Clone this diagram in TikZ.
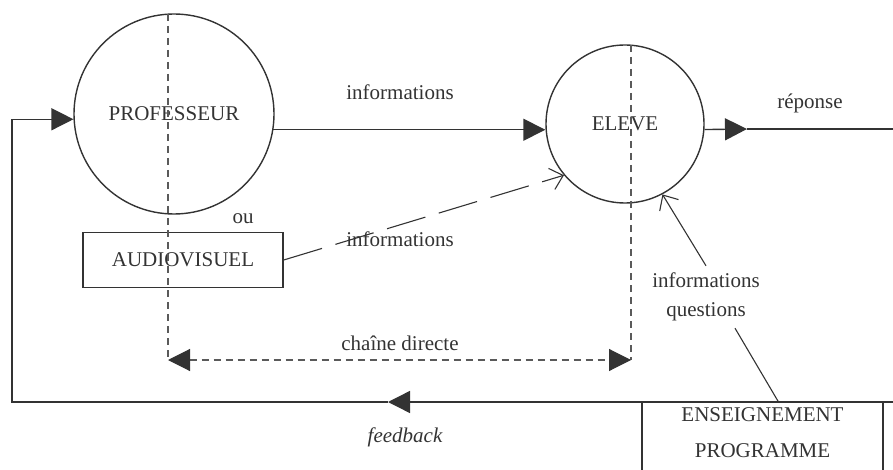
\documentclass[tikz,border=0pt]{standalone}
\usepackage{fontspec}
\setmainfont{Liberation Serif}
\usetikzlibrary{arrows.meta, positioning}

\definecolor{ink}{HTML}{333333}
\definecolor{guidegray}{HTML}{5A5A5A}

\tikzset{
  every node/.style={text=ink, font=\fontsize{10.5}{12.6}\selectfont},
  bubble/.style={circle, draw=ink, line width=0.7pt, inner sep=0pt},
  boxed/.style={rectangle, draw=ink, line width=0.7pt},
  flow/.style={draw=ink, line width=0.7pt, -{Triangle[length=11pt,width=11pt]}},
  plain/.style={draw=ink, line width=0.7pt},
  guide/.style={draw=guidegray, line width=0.55pt, dash pattern=on 3.5pt off 2.5pt},
  hint/.style={draw=ink, line width=0.55pt, -{Straight Barb[length=6pt,width=11pt]}},
}

\begin{document}
\begin{tikzpicture}[x=0.5pt, y=-0.5pt]
\clip (0,0) rectangle (893,470); % page frame

% Main blocks
\node[bubble, minimum size=100pt] (prof) at (174,114) {PROFESSEUR};
\node[bubble, minimum size=79pt] (eleve) at (625,124) {ELEVE};
\node[boxed, minimum width=100pt, minimum height=27.5pt] (av) at (183,260) {AUDIOVISUEL};
\node[boxed, anchor=north, align=center, minimum width=120.5pt, inner ysep=2.5pt,
      text depth=45pt, font=\fontsize{10.5}{18}\selectfont] (ens) at (762.5,402)
      {ENSEIGNEMENT\\PROGRAMME};

% Labels
\node (infoa) at (400,92) {informations};
\node (rep) at (810,103) {réponse};
\node (ou) at (243,219) {ou};
\node (infob) at (400,239) {informations};
\node (chaine) at (400,343) {chaîne directe};
\node (fb) at (405,437) {\itshape feedback};
\node[align=center, font=\fontsize{10.5}{14.5}\selectfont] (iq) at (706,297) {informations\\questions};

% Helper points
\coordinate (rtip) at (747,129);
\coordinate (rout) at (893,129);
\coordinate (fbr) at (893,402);
\coordinate (fbtip) at (388,402);
\coordinate (fbl) at (12,402);
\coordinate (cdl) at (168,360);
\coordinate (cdr) at (631,360);

% Direct chain (dashed)
\draw[guide] (168,14) -- (cdl);
\draw[guide] (631,45) -- (cdr);
\draw[guide, {Triangle[length=11pt,width=11pt,color=ink]}-{Triangle[length=11pt,width=11pt,color=ink]}] (cdl) -- (cdr);

% Flows
\draw[flow] (prof.-9) -- (prof.-9 -| eleve.west);
\draw[flow] (eleve.-4) -- (rtip);
\draw[plain] (rtip) -- (rout);
\draw[flow] (fbr) -- (fbtip);
\draw[flow] (fbtip) -- (fbl) |- (prof.183);

% Audiovisual path and programmed teaching
\draw[hint, dash pattern=on 20pt off 7pt] (av.east) -- (eleve.220);
\draw[hint] (iq.north) -- (eleve.-62);
\draw[plain, line width=0.55pt] ([xshift=14.5pt]iq.south) -- ([xshift=8pt]ens.north);

\end{tikzpicture}
\end{document}
